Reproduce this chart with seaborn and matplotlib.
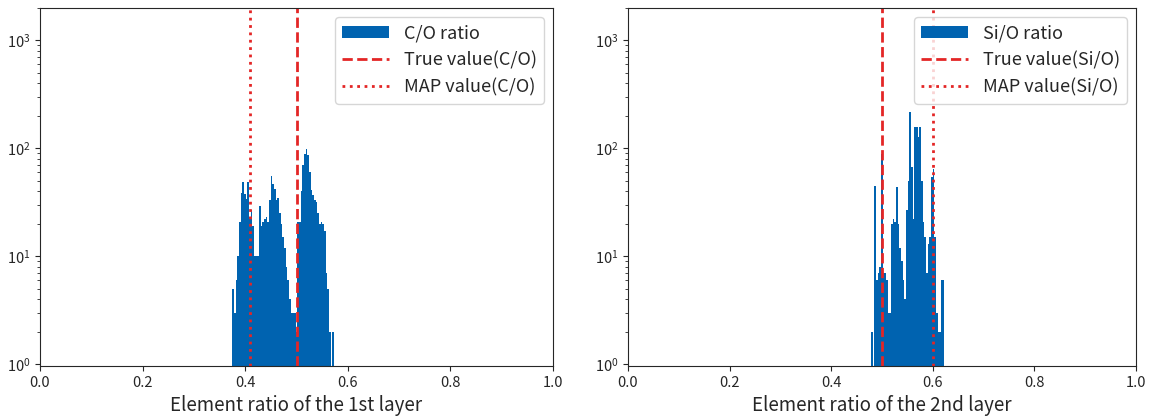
import numpy as np
import matplotlib
matplotlib.use("Agg")
import matplotlib.pyplot as plt
import seaborn as sns

# ----------------------------
# Data (counts per bin)
# ----------------------------
co_counts = [5, 3, 6, 10, 21, 39, 49, 38, 34, 49, 23, 27, 19, 10, 10, 10,
             29, 19, 21, 22, 23, 21, 33, 56, 47, 42, 33, 35, 25, 20, 15, 12,
             8, 6, 4, 3, 3, 3, 2, 21, 21, 40, 70, 89, 99, 86, 60, 41, 37,
             33, 32, 25, 20, 21, 20, 17, 7, 5, 2, 0, 2]
co_range = (0.375, 0.5732)
co_true = 0.5
co_map = 0.41

sio_counts = [2, 0, 45, 6, 7, 8, 89, 7, 7, 6, 3, 3, 20, 22, 21, 44, 20, 12,
              9, 6, 4, 27, 50, 217, 67, 22, 158, 158, 127, 158, 50, 21, 15,
              7, 13, 15, 54, 65, 15, 3, 2, 2, 6, 6]
sio_range = (0.4783, 0.6227)
sio_true = 0.5
sio_map = 0.6

xticks = [0.0, 0.2, 0.4, 0.6, 0.8, 1.0]

BAR_COLOR = "#0063b0"
LINE_COLOR = "#e32626"

# ----------------------------
# Style
# ----------------------------
sns.set_style("ticks")
plt.rcParams["font.family"] = ["Noto Sans CJK JP", "DejaVu Sans"]
plt.rcParams["xtick.labelsize"] = 10.5
plt.rcParams["ytick.labelsize"] = 10.5

fig = plt.figure(figsize=(11.51, 4.18), dpi=100)
ax1 = fig.add_axes([0.0348, 0.124, 0.4457, 0.857])
ax2 = fig.add_axes([0.5456, 0.124, 0.4414, 0.857])


def draw_panel(ax, counts, brange, true_v, map_v, name, xlabel):
    n = len(counts)
    width = (brange[1] - brange[0]) / n
    centers = brange[0] + width * (np.arange(n) + 0.5)
    sns.histplot(x=centers, weights=np.asarray(counts, dtype=float),
                 binwidth=width, binrange=brange, ax=ax,
                 color=BAR_COLOR, alpha=1, linewidth=0, label=f"{name} ratio")
    ax.axvline(true_v, color=LINE_COLOR, linestyle="--", lw=2,
               label=f"True value({name})")
    ax.axvline(map_v, color=LINE_COLOR, linestyle=":", lw=2,
               label=f"MAP value({name})")
    ax.set_yscale("log")
    ax.set_ylim(0.96, 2000)
    ax.set_xlim(0, 1)
    ax.set_xticks(xticks)
    ax.set_xlabel(xlabel, fontsize=13.5)
    ax.set_ylabel("")
    handles, labels = ax.get_legend_handles_labels()
    order = [labels.index(f"{name} ratio"),
             labels.index(f"True value({name})"),
             labels.index(f"MAP value({name})")]
    ax.legend([handles[i] for i in order], [labels[i] for i in order],
              loc="upper right", fontsize=13, handlelength=2.6)


draw_panel(ax1, co_counts, co_range, co_true, co_map, "C/O",
           "Element ratio of the 1st layer")
draw_panel(ax2, sio_counts, sio_range, sio_true, sio_map, "Si/O",
           "Element ratio of the 2nd layer")

fig.savefig("out.png", dpi=100)
